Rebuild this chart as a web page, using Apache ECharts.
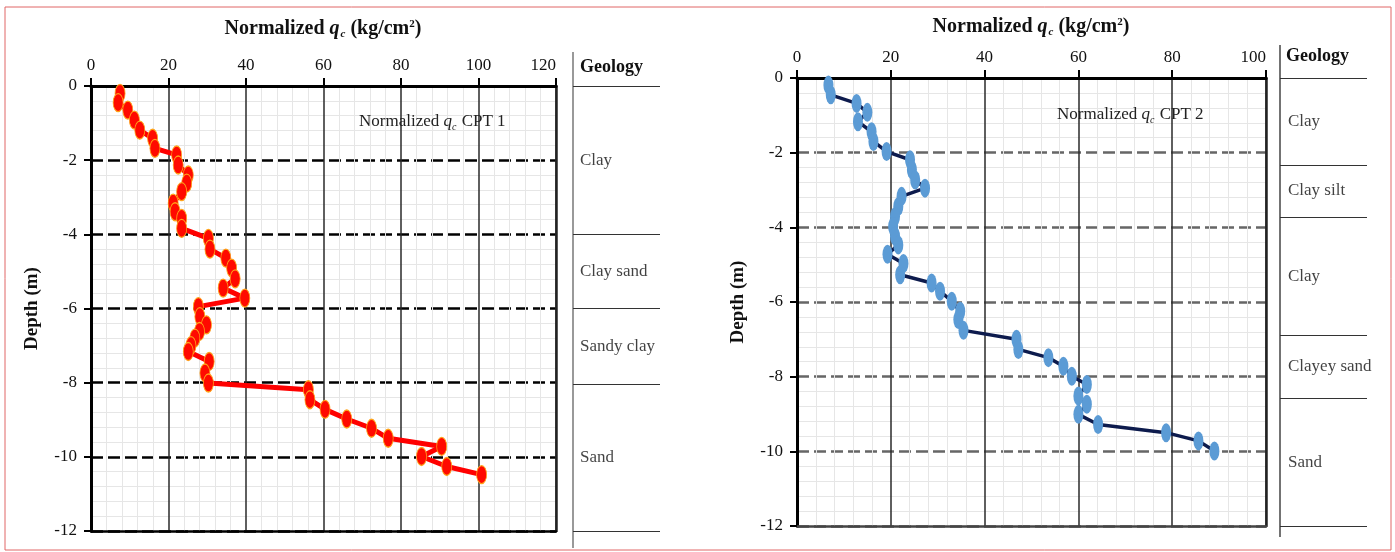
<!DOCTYPE html>
<html><head><meta charset="utf-8">
<script src="https://cdn.jsdelivr.net/npm/echarts@6/dist/echarts.min.js"></script>
<style>html,body{margin:0;padding:0;background:#fff}#c{width:1395px;height:552px}</style>
</head><body><div id="c"></div>
<script>
// ---- CPT 1 (left panel) ----
const cpt1Depth = [-0.2,-0.45,-0.65,-0.92,-1.19,-1.41,-1.68,-1.86,-2.13,-2.4,-2.62,-2.85,-3.16,-3.39,-3.57,-3.84,-4.11,-4.4,-4.64,-4.91,-5.2,-5.45,-5.72,-5.95,-6.22,-6.44,-6.62,-6.8,-7.0,-7.16,-7.43,-7.74,-8.01,-8.19,-8.46,-8.72,-8.98,-9.23,-9.5,-9.72,-9.99,-10.26,-10.48];
const cpt1Qc = [7.5,7.0,9.5,11.2,12.6,15.9,16.5,22.1,22.5,25.1,24.7,23.4,21.2,21.7,23.4,23.4,30.3,30.7,34.8,36.3,37.2,34.1,39.7,27.7,28.1,29.8,28.0,26.8,25.8,25.1,30.5,29.4,30.3,56.1,56.5,60.4,66,72.4,76.7,90.5,85.3,91.8,100.8];
// ---- CPT 2 (right panel) ----
const cpt2Depth = [-0.19,-0.45,-0.68,-0.92,-1.17,-1.44,-1.7,-1.97,-2.19,-2.46,-2.73,-2.95,-3.17,-3.44,-3.71,-3.98,-4.24,-4.47,-4.72,-4.97,-5.27,-5.49,-5.71,-5.98,-6.25,-6.47,-6.76,-7.0,-7.27,-7.49,-7.72,-7.99,-8.21,-8.52,-8.74,-9.01,-9.28,-9.5,-9.72,-9.99];
const cpt2Qc = [6.7,7.2,12.7,15.0,13.0,15.9,16.3,19.1,24.1,24.5,25.2,27.3,22.3,21.6,20.9,20.5,20.9,21.6,19.3,22.7,22.0,28.7,30.5,33.0,34.8,34.4,35.5,46.8,47.2,53.6,56.8,58.6,61.8,60.0,61.8,60.0,64.2,78.7,85.6,89.0];
// ---- Geology columns ----
const geo1Bounds = [0,-4,-6,-8.05,-12];
const geo1Names = ['Clay','Clay sand','Sandy clay','Sand'];
const geo2Bounds = [0,-2.33,-3.72,-6.9,-8.58,-12];
const geo2Names = ['Clay','Clay silt','Clay','Clayey sand','Sand'];
// ---- Axis settings ----
const x1Max = 120, x2Max = 100, xStep = 20;
const yMin = -12, yMax = 0, yStep = 2;

const SERIF = 'Liberation Serif';
const ellipse = 'path://M50,0 A50,100 0 1,1 50,200 A50,100 0 1,1 50,0 Z';

function pairs(xs, ys){ return xs.map((x,i)=>[x, ys[i]]); }
function geoData(bounds, names){
  return names.map((n,i)=>({name:n, value:[0,(bounds[i]+bounds[i+1])/2]}));
}
function geoLines(bounds){ return bounds.map(b=>({yAxis:b})); }

const titleRich = {
  b:{fontFamily:SERIF,fontWeight:'bold',fontSize:20,color:'#111',lineHeight:24},
  q:{fontFamily:SERIF,fontWeight:'bold',fontStyle:'italic',fontSize:20,color:'#111',lineHeight:24},
  c:{fontFamily:SERIF,fontWeight:'bold',fontStyle:'italic',fontSize:11,color:'#111',verticalAlign:'bottom',lineHeight:11,padding:[0,0,1,1]},
  s:{fontFamily:SERIF,fontWeight:'bold',fontSize:11,color:'#111',verticalAlign:'top',lineHeight:11,padding:[2,0,0,0]}
};
const labRich = {
  n:{fontFamily:SERIF,fontWeight:'normal',fontSize:17,color:'#222',lineHeight:20},
  q:{fontFamily:SERIF,fontWeight:'normal',fontStyle:'italic',fontSize:17,color:'#222',lineHeight:20},
  c:{fontFamily:SERIF,fontWeight:'normal',fontStyle:'italic',fontSize:10,color:'#222',verticalAlign:'bottom',lineHeight:10,padding:[0,1,0,0]}
};

function mainX(grid, max){
  return {gridIndex:grid,type:'value',position:'top',min:0,max:max,interval:xStep,
    axisLine:{show:true,onZero:false,lineStyle:{color:'#000',width:3}},
    axisTick:{show:true,length:8,lineStyle:{color:'#000',width:2}},
    axisLabel:{margin:12,fontFamily:SERIF,fontSize:17,color:'#111',alignMaxLabel:'right'},
    splitLine:{show:true,lineStyle:{color:'#2a2a2a',width:1.5}},
    minorTick:{show:false,splitNumber:5},
    minorSplitLine:{show:true,lineStyle:{color:'#e6e6e6',width:1}}};
}
function frameX(grid, max, color){
  return {gridIndex:grid,type:'value',position:'bottom',min:0,max:max,
    axisLine:{show:true,onZero:false,lineStyle:{color:color,width:2.5}},
    axisTick:{show:false},axisLabel:{show:false},splitLine:{show:false}};
}
function mainY(grid, dashColor){
  return {gridIndex:grid,type:'value',min:yMin,max:yMax,interval:yStep,
    name:'Depth (m)',nameLocation:'middle',nameRotate:90,nameGap:49,
    nameTextStyle:{fontFamily:SERIF,fontWeight:'bold',fontSize:19,color:'#111'},
    axisLine:{show:true,onZero:false,lineStyle:{color:'#000',width:3}},
    axisTick:{show:true,length:7,lineStyle:{color:'#000',width:2}},
    axisLabel:{margin:14,fontFamily:SERIF,fontSize:17,color:'#111'},
    splitLine:{show:true,lineStyle:{color:dashColor,width:2.5,type:[12,5]}},
    minorTick:{show:false,splitNumber:5},
    minorSplitLine:{show:true,lineStyle:{color:'#e6e6e6',width:1}}};
}
function frameY(grid){
  return {gridIndex:grid,type:'value',position:'right',min:yMin,max:yMax,
    axisLine:{show:true,onZero:false,lineStyle:{color:'#222',width:2.5}},
    axisTick:{show:false},axisLabel:{show:false},splitLine:{show:false}};
}
function hidX(grid){ return {gridIndex:grid,type:'value',min:0,max:1,show:false}; }
function hidY(grid){ return {gridIndex:grid,type:'value',min:yMin,max:yMax,show:false}; }

const chart = echarts.init(document.getElementById('c'), null, {renderer:'canvas'});
chart.setOption({
  backgroundColor:'#fff',
  animation:false,
  title:[
    {text:'{b|Normalized }{q|q}{c|c}{b| (kg/cm}{s|2}{b|)}',left:323,top:17,textAlign:'center',padding:0,textStyle:{rich:titleRich}},
    {text:'{b|Normalized }{q|q}{c|c}{b| (kg/cm}{s|2}{b|)}',left:1031,top:15,textAlign:'center',padding:0,textStyle:{rich:titleRich}},
    {text:'{n|Normalized }{q|q}{c|c}{n| CPT 1}',left:359,top:112,padding:0,textStyle:{fontWeight:'normal',rich:labRich}},
    {text:'{n|Normalized }{q|q}{c|c}{n| CPT 2}',left:1057,top:105,padding:0,textStyle:{fontWeight:'normal',rich:labRich}}
  ],
  grid:[
    {left:91,top:86,width:465,height:445},
    {left:573,top:86,width:87,height:445},
    {left:797,top:78,width:469,height:448},
    {left:1280,top:78,width:87,height:448}
  ],
  xAxis:[mainX(0,x1Max), frameX(0,x1Max,'#000'), hidX(1), mainX(2,x2Max), frameX(2,x2Max,'#444'), hidX(3)],
  yAxis:[mainY(0,'#000'), frameY(0), hidY(1), mainY(2,'#666'), frameY(2), hidY(3)],
  series:[
    {type:'line',xAxisIndex:0,yAxisIndex:0,data:pairs(cpt1Qc,cpt1Depth),
     symbol:ellipse,symbolSize:[10,18],
     lineStyle:{color:'#ff0000',width:5},
     itemStyle:{color:'#ff0a00',borderColor:'#ffa31a',borderWidth:1}},
    {type:'line',xAxisIndex:3,yAxisIndex:3,data:pairs(cpt2Qc,cpt2Depth),
     symbol:ellipse,symbolSize:[10,19],
     lineStyle:{color:'#0d1b4d',width:3.5},
     itemStyle:{color:'#5b9bd5',borderWidth:0}},
    {type:'scatter',xAxisIndex:2,yAxisIndex:2,data:geoData(geo1Bounds,geo1Names),symbolSize:0,
     label:{show:true,position:'right',distance:7,formatter:'{b}',fontFamily:SERIF,fontSize:17,color:'#111'},
     markLine:{silent:true,symbol:'none',label:{show:false},lineStyle:{color:'#333',width:1,type:'solid'},data:geoLines(geo1Bounds)}},
    {type:'scatter',xAxisIndex:5,yAxisIndex:5,data:geoData(geo2Bounds,geo2Names),symbolSize:0,
     label:{show:true,position:'right',distance:8,formatter:'{b}',fontFamily:SERIF,fontSize:17,color:'#111'},
     markLine:{silent:true,symbol:'none',label:{show:false},lineStyle:{color:'#333',width:1,type:'solid'},data:geoLines(geo2Bounds)}}
  ],
  graphic:[
    {type:'rect',shape:{x:5,y:7,width:1386,height:543},style:{fill:'none',stroke:'#e06666',lineWidth:1},silent:true,z:-1},
    {type:'line',shape:{x1:573,y1:52,x2:573,y2:548},style:{stroke:'#777',lineWidth:1.5},silent:true},
    {type:'line',shape:{x1:1280,y1:45,x2:1280,y2:537},style:{stroke:'#444',lineWidth:1.5},silent:true},
    {type:'text',left:580,top:58,style:{text:'Geology',fontFamily:SERIF,fontWeight:'bold',fontSize:18,fill:'#111'}},
    {type:'text',left:1286,top:47,style:{text:'Geology',fontFamily:SERIF,fontWeight:'bold',fontSize:18,fill:'#111'}}
  ]
});
</script>
</body></html>
